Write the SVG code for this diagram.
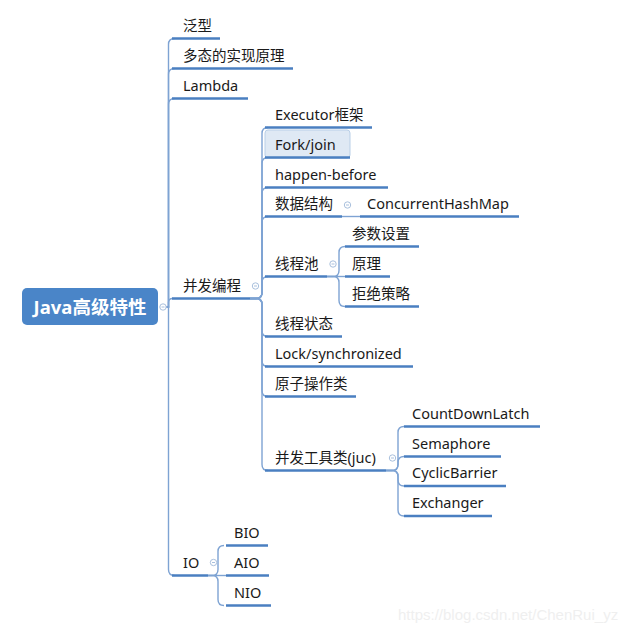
<svg xmlns="http://www.w3.org/2000/svg" width="640" height="632" viewBox="0 0 640 632">
<style>
.t{font-family:"Noto Sans","Noto Sans CJK SC",sans-serif;font-size:14.5px;fill:#1a1a1a}
.u{stroke:#4a7fc1;stroke-width:2.5;fill:none}
.c{stroke:#7ea3d3;stroke-width:1.4;fill:none}
.k{fill:#fff;stroke:#a9c0dd;stroke-width:1}
.m{stroke:#a9c0dd;stroke-width:1}
.wm{font-family:"Liberation Sans",sans-serif;font-size:15px;fill:#efefef}
</style>
<rect width="640" height="632" fill="#fff"/>
<g id="connectors">
<path class="c" d="M166,307 H168.5 V44.5 Q168.5,38.5 174.5,38.5"/>
<path class="c" d="M166,307 H168.5 V74.5 Q168.5,68.5 174.5,68.5"/>
<path class="c" d="M166,307 H168.5 V104.5 Q168.5,98.5 174.5,98.5"/>
<path class="c" d="M166,307 H168.5 V302.5 Q168.5,298.5 172.5,298.5"/>
<path class="c" d="M166,307 H168.5 V569.5 Q168.5,575.5 174.5,575.5"/>
<path class="c" d="M250,298.5 H256 Q262,298.5 262,292.5 V133.5 Q262,127.5 268,127.5"/>
<path class="c" d="M250,298.5 H256 Q262,298.5 262,292.5 V163.5 Q262,157.5 268,157.5"/>
<path class="c" d="M250,298.5 H256 Q262,298.5 262,292.5 V193.5 Q262,187.5 268,187.5"/>
<path class="c" d="M250,298.5 H256 Q262,298.5 262,292.5 V222.5 Q262,216.5 268,216.5"/>
<path class="c" d="M250,298.5 H256 Q262,298.5 262,292.5 V282.5 Q262,276.5 268,276.5"/>
<path class="c" d="M250,298.5 H256 Q262,298.5 262,304.5 V330.5 Q262,336.5 268,336.5"/>
<path class="c" d="M250,298.5 H256 Q262,298.5 262,304.5 V360.5 Q262,366.5 268,366.5"/>
<path class="c" d="M250,298.5 H256 Q262,298.5 262,304.5 V390.5 Q262,396.5 268,396.5"/>
<path class="c" d="M250,298.5 H256 Q262,298.5 262,304.5 V464.5 Q262,470.5 268,470.5"/>
<path class="c" d="M342,216.5 H360"/>
<path class="c" d="M327,276.5 H333 Q339,276.5 339,270.5 V252.5 Q339,246.5 345,246.5"/>
<path class="c" d="M327,276.5 H345"/>
<path class="c" d="M327,276.5 H333 Q339,276.5 339,282.5 V300.5 Q339,306.5 345,306.5"/>
<path class="c" d="M386,470.5 H392 Q398,470.5 398,464.5 V432.5 Q398,426.5 404,426.5"/>
<path class="c" d="M386,470.5 H392 Q398,470.5 398,464.5 V462.5 Q398,456.5 404,456.5"/>
<path class="c" d="M386,470.5 H392 Q398,470.5 398,476.5 V480 Q398,486 404,486"/>
<path class="c" d="M386,470.5 H392 Q398,470.5 398,476.5 V510 Q398,516 404,516"/>
<path class="c" d="M208,575.5 H212 Q218,575.5 218,569.5 V551.5 Q218,545.5 224,545.5"/>
<path class="c" d="M208,575.5 H226"/>
<path class="c" d="M208,575.5 H212 Q218,575.5 218,581.5 V599.5 Q218,605.5 224,605.5"/>
</g>
<g id="root">
<rect x="22" y="288" width="136" height="37" rx="5" fill="#4a85c8"/>
<text x="90" y="314" text-anchor="middle" style="font-family:'Noto Sans','Noto Sans CJK SC',sans-serif;font-size:18.5px;font-weight:bold;fill:#fff">Java高级特性</text>
<circle class="k" cx="163" cy="307" r="3.2"/><path class="m" d="M161.5,307 H164.5"/>
</g>
<g id="n-fanxing"><text class="t" x="183" y="31">泛型</text><path class="u" d="M172,38.5 H220"/></g>
<g id="n-duotai"><text class="t" x="183" y="61">多态的实现原理</text><path class="u" d="M172,68.5 H293"/></g>
<g id="n-lambda"><text class="t" x="183" y="91">Lambda</text><path class="u" d="M172,98.5 H248"/></g>
<g id="n-bingfa"><text class="t" x="183" y="291">并发编程</text><path class="u" d="M172,298.5 H250"/>
<circle class="k" cx="255.5" cy="286" r="3.2"/><path class="m" d="M254,286 H257"/></g>
<g id="n-io"><text class="t" x="183" y="568">IO</text><path class="u" d="M172,575.5 H208"/>
<circle class="k" cx="213.5" cy="562.5" r="3.2"/><path class="m" d="M212,562.5 H215"/></g>
<g id="n-executor"><text class="t" x="275" y="120">Executor框架</text><path class="u" d="M265,127.5 H372"/></g>
<g id="n-forkjoin"><rect x="265" y="130" width="85" height="28" rx="3" fill="#dfe9f4" stroke="#b9cfe7" stroke-width="1"/>
<text class="t" x="275" y="150">Fork/join</text><path class="u" d="M265,157.5 H350"/></g>
<g id="n-happen"><text class="t" x="275" y="180">happen-before</text><path class="u" d="M265,187.5 H388"/></g>
<g id="n-shuju"><text class="t" x="275" y="209">数据结构</text><path class="u" d="M265,216.5 H342"/>
<circle class="k" cx="347.5" cy="205" r="3.2"/><path class="m" d="M346,205 H349"/></g>
<g id="n-chm"><text class="t" x="367" y="209">ConcurrentHashMap</text><path class="u" d="M360,216.5 H519"/></g>
<g id="n-xianchengchi"><text class="t" x="275" y="269">线程池</text><path class="u" d="M265,276.5 H327"/>
<circle class="k" cx="333" cy="264" r="3.2"/><path class="m" d="M331.5,264 H334.5"/></g>
<g id="n-canshu"><text class="t" x="352" y="239">参数设置</text><path class="u" d="M345,246.5 H419"/></g>
<g id="n-yuanli"><text class="t" x="352" y="269">原理</text><path class="u" d="M345,276.5 H390"/></g>
<g id="n-jujue"><text class="t" x="352" y="299">拒绝策略</text><path class="u" d="M345,306.5 H419"/></g>
<g id="n-zhuangtai"><text class="t" x="275" y="329">线程状态</text><path class="u" d="M265,336.5 H342"/></g>
<g id="n-lock"><text class="t" x="275" y="359">Lock/synchronized</text><path class="u" d="M265,366.5 H413"/></g>
<g id="n-yuanzi"><text class="t" x="275" y="389">原子操作类</text><path class="u" d="M265,396.5 H356"/></g>
<g id="n-juc"><text class="t" x="275" y="463">并发工具类(juc)</text><path class="u" d="M265,470.5 H386"/>
<circle class="k" cx="392.5" cy="458" r="3.2"/><path class="m" d="M391,458 H394"/></g>
<g id="n-cdl"><text class="t" x="412" y="419">CountDownLatch</text><path class="u" d="M404,426.5 H540"/></g>
<g id="n-sem"><text class="t" x="412" y="449">Semaphore</text><path class="u" d="M404,456.5 H501"/></g>
<g id="n-cyc"><text class="t" x="412" y="478">CyclicBarrier</text><path class="u" d="M404,486 H506"/></g>
<g id="n-exch"><text class="t" x="412" y="508">Exchanger</text><path class="u" d="M404,516 H492"/></g>
<g id="n-bio"><text class="t" x="234" y="538">BIO</text><path class="u" d="M226,545.5 H268"/></g>
<g id="n-aio"><text class="t" x="234" y="568">AIO</text><path class="u" d="M226,575.5 H269"/></g>
<g id="n-nio"><text class="t" x="234" y="598">NIO</text><path class="u" d="M226,605.5 H271"/></g>
<text class="wm" x="398" y="620">https://blog.csdn.net/ChenRui_yz</text>
</svg>
